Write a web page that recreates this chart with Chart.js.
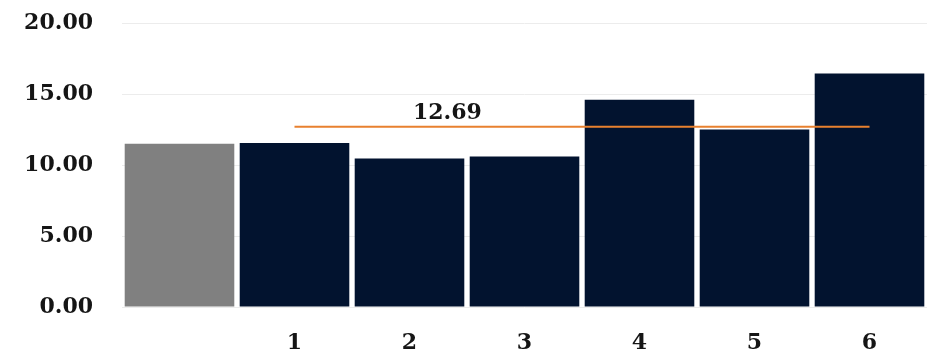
<!DOCTYPE html>
<html>
<head>
<meta charset="utf-8">
<script src="https://cdn.jsdelivr.net/npm/chart.js@4/dist/chart.umd.min.js"></script>
<style>
  html, body { margin: 0; padding: 0; background: #ffffff; }
  #wrap { width: 934px; height: 358px; position: relative; }
</style>
</head>
<body>
<div id="wrap"><canvas id="chart"></canvas></div>
<script>
// Categories along the x axis (the first bar is an unlabeled reference bar)
const categories = ["", "1", "2", "3", "4", "5", "6"];
// Bar heights
const barValues = [11.5, 11.55, 10.45, 10.6, 14.6, 12.5, 16.44];
// Average of bars 1–6, drawn as a horizontal line across them
const averageValue = 12.69;
// Where the average line starts (category index) and where its label sits
const averageStartIndex = 1;
const averageLabelIndex = 2.33;
// Value axis ticks
const yTickValues = [0, 5, 10, 15, 20];

const barColors = categories.map((c, i) => i === 0 ? "#808080" : "#02132f");
const averageLine = categories.map((c, i) => i >= averageStartIndex ? averageValue : null);

const serif = "'DejaVu Serif', 'Liberation Serif', serif";

const averageLabelPlugin = {
  id: "averageLabel",
  afterDatasetsDraw(chart) {
    const { ctx, scales } = chart;
    const x = scales.x.getPixelForValue(averageLabelIndex);
    const y = scales.y.getPixelForValue(averageValue);
    ctx.save();
    ctx.font = "bold 22px " + serif;
    ctx.fillStyle = "#151515";
    ctx.textAlign = "center";
    ctx.textBaseline = "middle";
    ctx.fillText(averageValue.toFixed(2), x, y - 14);
    ctx.restore();
  }
};

new Chart(document.getElementById("chart"), {
  data: {
    labels: categories,
    datasets: [
      {
        type: "line",
        data: averageLine,
        borderColor: "#e8812f",
        borderWidth: 2,
        pointRadius: 0,
        fill: false,
        order: 0
      },
      {
        type: "bar",
        data: barValues,
        backgroundColor: barColors,
        categoryPercentage: 1.0,
        barPercentage: 0.953,
        order: 1
      }
    ]
  },
  options: {
    responsive: true,
    maintainAspectRatio: false,
    animation: false,
    layout: { padding: { top: 23, right: 7, bottom: 0, left: 0 } },
    plugins: {
      legend: { display: false },
      tooltip: { enabled: false }
    },
    scales: {
      x: {
        offset: true,
        grid: { display: false, drawTicks: false },
        border: { display: false },
        ticks: {
          padding: 23,
          color: "#151515",
          font: { family: serif, size: 22, weight: "bold" }
        },
        afterFit(scale) { scale.height = 51; }
      },
      y: {
        min: 0,
        max: 20,
        afterBuildTicks(scale) { scale.ticks = yTickValues.map(v => ({ value: v })); },
        grid: { color: "#ececec", lineWidth: 1, drawTicks: false },
        border: { display: false },
        ticks: {
          padding: 29,
          color: "#151515",
          font: { family: serif, size: 22, weight: "bold" },
          callback: v => Number(v).toFixed(2)
        },
        afterFit(scale) {
          scale.width = 122;
          // the tick padding is horizontal spacing only; keep it out of the vertical layout
          scale.paddingTop = 0;
          scale.paddingBottom = 0;
        }
      }
    }
  },
  plugins: [averageLabelPlugin]
});
</script>
</body>
</html>
